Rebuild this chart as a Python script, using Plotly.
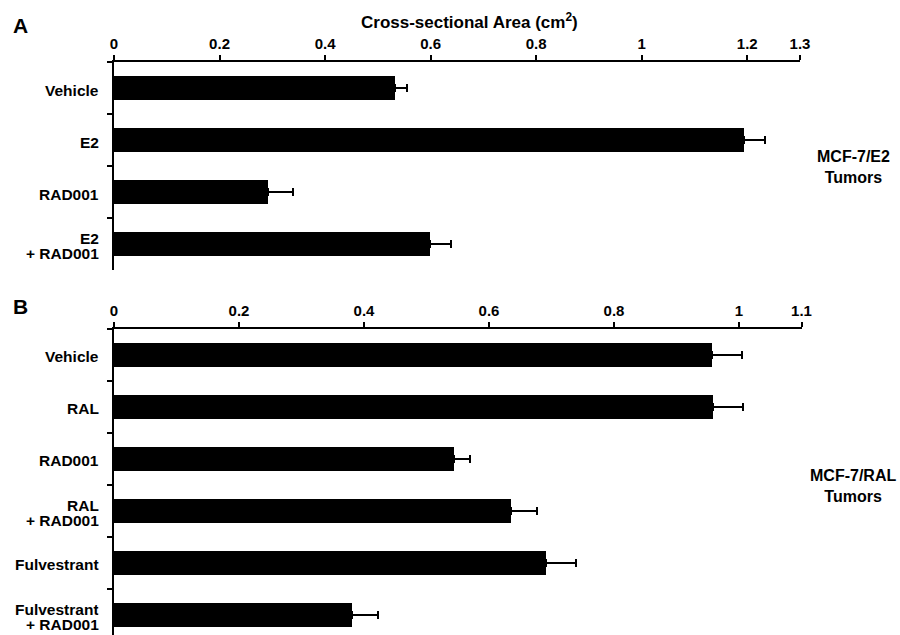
import plotly.graph_objects as go

# ---- Data ----
cats_a = ["Vehicle", "E2", "RAD001", "E2<br>+ RAD001"]
vals_a = [0.532, 1.193, 0.292, 0.598]
errs_a = [0.024, 0.041, 0.048, 0.041]

cats_b = ["Vehicle", "RAL", "RAD001", "RAL<br>+ RAD001", "Fulvestrant", "Fulvestrant<br>+ RAD001"]
vals_b = [0.956, 0.959, 0.544, 0.635, 0.691, 0.381]
errs_b = [0.048, 0.048, 0.025, 0.041, 0.048, 0.042]

ticks_a = [0, 0.2, 0.4, 0.6, 0.8, 1, 1.2, 1.3]
ticklabels_a = ["0", "0.2", "0.4", "0.6", "0.8", "1", "1.2", "1.3"]
ticks_b = [0, 0.2, 0.4, 0.6, 0.8, 1, 1.1]
ticklabels_b = ["0", "0.2", "0.4", "0.6", "0.8", "1", "1.1"]

W, H = 900, 635
FONT = "Liberation Sans, Arial, sans-serif"

def px_x(p):
    return p / W

def px_y(p):
    return 1 - p / H

fig = go.Figure()

fig.add_trace(go.Bar(
    x=vals_a, y=cats_a, orientation="h", width=0.45,
    marker=dict(color="black", line=dict(width=0)),
    error_x=dict(type="data", array=errs_a, arrayminus=[0] * len(errs_a),
                 symmetric=False, color="black", thickness=2, width=4),
    xaxis="x", yaxis="y", showlegend=False, hoverinfo="skip",
))
fig.add_trace(go.Bar(
    x=vals_b, y=cats_b, orientation="h", width=0.45,
    marker=dict(color="black", line=dict(width=0)),
    error_x=dict(type="data", array=errs_b, arrayminus=[0] * len(errs_b),
                 symmetric=False, color="black", thickness=2, width=4),
    xaxis="x2", yaxis="y2", showlegend=False, hoverinfo="skip",
))

tickfont = dict(family=FONT, size=15, color="black", weight="bold")
labfont = dict(family=FONT, size=15.5, color="black", weight="bold")

xcommon = dict(side="top", showline=True, linecolor="black", linewidth=2,
               ticks="outside", ticklen=5, tickwidth=1.5, tickcolor="black",
               showgrid=False, zeroline=False, tickfont=tickfont, fixedrange=True,
               automargin=False)
ycommon = dict(type="category", showline=True, linecolor="black", linewidth=2,
               ticks="outside", ticklen=5, tickwidth=1.5, tickcolor="black",
               tickson="boundaries", showgrid=False, zeroline=False,
               showticklabels=False, fixedrange=True, automargin=False)

top_a, bot_a = 62, 270
top_b = 328.5
spacing = 52.0
bot_b = H
range_b_end = -0.5 + (bot_b - top_b) / spacing

fig.update_layout(
    width=W, height=H,
    margin=dict(l=0, r=0, t=0, b=0, autoexpand=False),
    paper_bgcolor="white", plot_bgcolor="white",
    bargap=0,
    xaxis=dict(domain=[px_x(114), px_x(800)], range=[0, 1.3], anchor="y",
               tickmode="array", tickvals=ticks_a, ticktext=ticklabels_a, **xcommon),
    yaxis=dict(domain=[px_y(bot_a), px_y(top_a)], range=[3.5, -0.5], anchor="x",
               **ycommon),
    xaxis2=dict(domain=[px_x(114), px_x(801.5)], range=[0, 1.1], anchor="y2",
                tickmode="array", tickvals=ticks_b, ticktext=ticklabels_b, **xcommon),
    yaxis2=dict(domain=[0, px_y(top_b)], range=[range_b_end, -0.5], anchor="x2",
                **ycommon),
)

ann = []
LINE_GAP = 15  # px between lines of a two-line category label
for cats, yref in ((cats_a, "y"), (cats_b, "y2")):
    for c in cats:
        lines = c.split("<br>")
        n = len(lines)
        for i, ln in enumerate(lines):
            a = dict(text=ln, x=px_x(101), y=c, xref="paper", yref=yref,
                     xanchor="right", yanchor="middle", showarrow=False,
                     yshift=((n - 1) / 2 - i) * LINE_GAP - 2,
                     font=labfont)
            if n > 1:
                a["height"] = LINE_GAP
            ann.append(a)

def ptext(text, x, y, size, align="center"):
    return dict(text=text, x=px_x(x), y=px_y(y), xref="paper", yref="paper",
                xanchor="center", yanchor="middle", showarrow=False, align=align,
                font=dict(family=FONT, size=size, color="black", weight="bold"))

ann.append(ptext("Cross-sectional Area (cm<sup>2</sup>)", 469, 21, 17))
ann.append(ptext("A", 20, 26, 21))
ann.append(ptext("B", 20, 306, 21))
ann.append(ptext("MCF-7/E2<br>Tumors", 853, 167, 16))
ann.append(ptext("MCF-7/RAL<br>Tumors", 853, 486, 16))
fig.update_layout(annotations=ann)

fig.write_html("out.html", config={"displayModeBar": False},
               post_script="document.body.style.margin='0';document.body.style.overflow='hidden';")
